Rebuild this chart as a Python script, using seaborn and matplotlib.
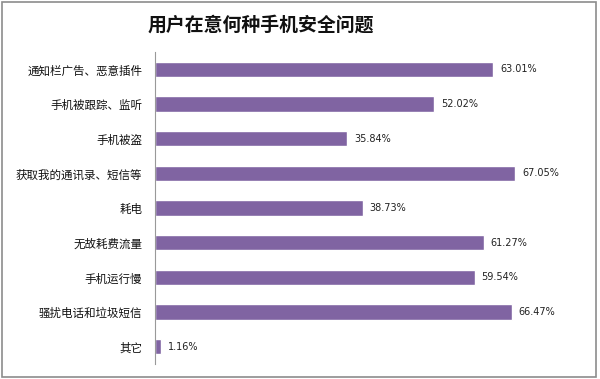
import matplotlib
matplotlib.use("Agg")
import matplotlib.pyplot as plt
import seaborn as sns
import pandas as pd

# Survey results
categories = ["通知栏广告、恶意插件", "手机被跟踪、监听", "手机被盗", "获取我的通讯录、短信等",
              "耗电", "无故耗费流量", "手机运行慢", "骚扰电话和垃圾短信", "其它"]
shares = [63.01, 52.02, 35.84, 67.05, 38.73, 61.27, 59.54, 66.47, 1.16]
title = "用户在意何种手机安全问题"

df = pd.DataFrame({"category": categories, "share": shares})

sns.set_style("white")
plt.rcParams["font.family"] = ["Noto Sans CJK SC", "DejaVu Sans"]

fig = plt.figure(figsize=(6, 3.79), dpi=100)
ax = fig.add_axes([0.2578, 0.0396, 0.7165, 0.823])

sns.barplot(data=df, x="share", y="category", orient="h", color="#8064A2",
            saturation=1, width=0.44, ax=ax)

ax.bar_label(ax.containers[0], labels=[f"{v:.2f}%" for v in shares],
             padding=5, fontsize=7, color="#222222", family="DejaVu Sans")

ax.set_xlim(0, 80)
ax.set_xlabel("")
ax.set_ylabel("")
ax.set_xticks([])
ax.tick_params(axis="y", length=0, pad=9, labelsize=8.3, labelcolor="#111111")
for side in ["top", "right", "bottom"]:
    ax.spines[side].set_visible(False)
ax.spines["left"].set_color("#999999")
ax.spines["left"].set_linewidth(0.8)

fig.text(0.434, 0.933, title, ha="center", va="center", fontsize=13.6,
         fontweight="bold", color="#111111")

# outer border of the chart
fig.patches.append(plt.Rectangle((0.004, 0.005), 0.99, 0.99, transform=fig.transFigure,
                                 fill=False, edgecolor="#8c8c8c", linewidth=1.2))

plt.savefig("out.png", dpi=100)
